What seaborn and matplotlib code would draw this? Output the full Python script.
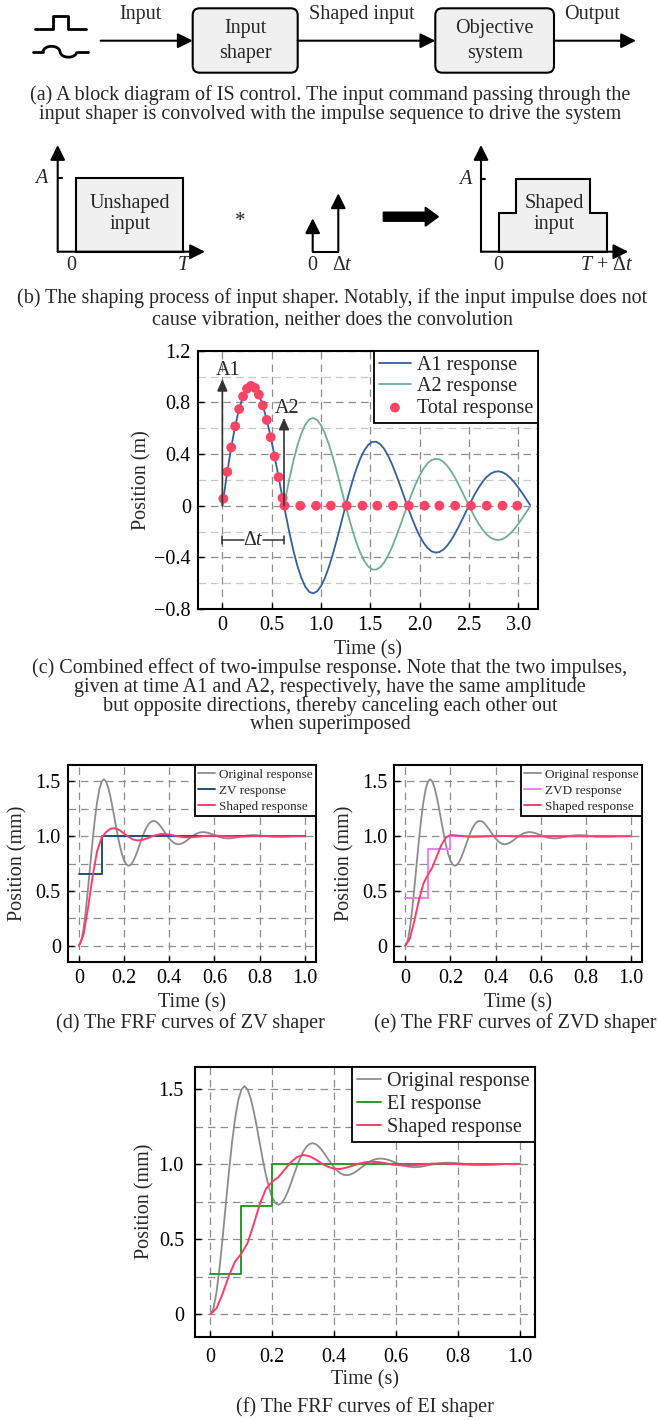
import matplotlib
matplotlib.use("Agg")
import matplotlib.pyplot as plt
import matplotlib.ticker as mticker
import seaborn as sns
from matplotlib.patches import FancyBboxPatch, Rectangle, Polygon, FancyArrow, PathPatch
from matplotlib.path import Path

sns.set_theme(style="white")
plt.rcParams["font.family"] = ["Liberation Serif", "DejaVu Serif"]
plt.rcParams["mathtext.fontset"] = "custom"
plt.rcParams["mathtext.rm"] = "Liberation Serif"
plt.rcParams["mathtext.it"] = "Liberation Serif:italic"

# ---- (d)-(f) step responses ----
t_fine = [0, 0.01, 0.02, 0.03, 0.04, 0.05, 0.06, 0.07, 0.08, 0.09,
          0.1, 0.11, 0.12, 0.13, 0.14, 0.15, 0.16, 0.17, 0.18, 0.19,
          0.2, 0.21, 0.22, 0.23, 0.24, 0.25, 0.26, 0.27, 0.28, 0.29,
          0.3, 0.31, 0.32, 0.33, 0.34, 0.35, 0.36, 0.37, 0.38, 0.39,
          0.4, 0.41, 0.42, 0.43, 0.44, 0.45, 0.46, 0.47, 0.48, 0.49,
          0.5, 0.51, 0.52, 0.53, 0.54, 0.55, 0.56, 0.57, 0.58, 0.59, 0.6,
          0.62, 0.64, 0.66, 0.68, 0.7, 0.72, 0.74, 0.76, 0.78, 0.8,
          0.82, 0.84, 0.86, 0.88, 0.9, 0.92, 0.94, 0.96, 0.98, 1.0]
orig = [0, 0.041, 0.153, 0.32, 0.523, 0.741, 0.955, 1.149, 1.309, 1.427,
        1.497, 1.52, 1.499, 1.44, 1.353, 1.248, 1.135, 1.023, 0.923, 0.839,
        0.778, 0.742, 0.73, 0.741, 0.771, 0.816, 0.871, 0.93, 0.988, 1.04,
        1.083, 1.115, 1.134, 1.14, 1.135, 1.119, 1.095, 1.067, 1.036, 1.006,
        0.979, 0.957, 0.94, 0.93, 0.927, 0.93, 0.938, 0.95, 0.965, 0.981,
        0.997, 1.011, 1.023, 1.031, 1.036, 1.038, 1.036, 1.032, 1.026, 1.018, 1.01,
        0.994, 0.984, 0.98, 0.983, 0.991, 0.999, 1.006, 1.01, 1.01, 1.007,
        1.003, 0.998, 0.996, 0.995, 0.995, 0.997, 1.0, 1.002, 1.003, 1.003]
t_sh = [0, 0.02, 0.04, 0.06, 0.08, 0.1, 0.12, 0.14, 0.16, 0.18,
        0.2, 0.22, 0.24, 0.26, 0.28, 0.3, 0.32, 0.34, 0.36, 0.38,
        0.4, 0.42, 0.44, 0.46, 0.48, 0.5, 0.52, 0.54, 0.56, 0.58,
        0.6, 0.62, 0.64, 0.66, 0.68, 0.7, 0.72, 0.74, 0.76, 0.78,
        0.8, 0.82, 0.84, 0.86, 0.88, 0.9, 0.92, 0.94, 0.96, 0.98, 1.0]
zv_shaped = [0, 0.101, 0.344, 0.629, 0.861, 0.985, 1.038, 1.069, 1.073, 1.055,
             1.024, 0.993, 0.97, 0.961, 0.966, 0.979, 0.996, 1.01, 1.019, 1.02,
             1.015, 1.007, 0.998, 0.992, 0.99, 0.991, 0.994, 0.999, 1.003, 1.005,
             1.005, 1.004, 1.002, 0.999, 0.998, 0.997, 0.997, 0.998, 1.0, 1.001,
             1.001, 1.001, 1.001, 1.0, 1.0, 0.999, 0.999, 0.999, 1.0, 1.0, 1.0]
zvd_shaped = [0, 0.066, 0.227, 0.414, 0.567, 0.648, 0.718, 0.821, 0.921, 0.989,
              1.011, 1.008, 1.004, 1.0, 0.996, 0.995, 0.995, 0.997, 0.999, 1.001,
              1.003, 1.003, 1.002, 1.001, 1.0, 0.999, 0.999, 0.999, 0.999, 1.0,
              1.0, 1.001, 1.001, 1.001, 1.0, 1.0, 1.0, 1.0, 1.0, 1.0,
              1.0, 1.0, 1.0, 1.0, 1.0, 1.0, 1.0, 1.0, 1.0, 1.0, 1.0]
ei_shaped = [0, 0.041, 0.141, 0.258, 0.353, 0.404, 0.474, 0.601, 0.736, 0.838,
             0.884, 0.914, 0.964, 1.013, 1.048, 1.062, 1.054, 1.032, 1.005, 0.983,
             0.97, 0.969, 0.977, 0.99, 1.004, 1.013, 1.017, 1.015, 1.009, 1.001,
             0.995, 0.992, 0.992, 0.994, 0.997, 1.001, 1.004, 1.005, 1.004, 1.002,
             1.0, 0.999, 0.998, 0.998, 0.998, 0.999, 1.0, 1.001, 1.001, 1.001, 1.001]

zv_t, zv_y = [0, 0.1, 1.0], [0.658, 1.0, 1.0]
zvd_t, zvd_y = [0, 0.1, 0.2, 1.0], [0.433, 0.883, 1.0, 1.0]
ei_t, ei_y = [0, 0.1, 0.2, 1.0], [0.27, 0.72, 1.0, 1.0]

# ---- (c) two-impulse responses ----
t_c = [0, 0.04, 0.08, 0.12, 0.16, 0.2, 0.24, 0.28, 0.32, 0.36, 0.4, 0.44, 0.48, 0.52, 0.56, 0.6,
       0.64, 0.68, 0.72, 0.76, 0.8, 0.84, 0.88, 0.92, 0.96, 1.0, 1.04, 1.08, 1.12, 1.16, 1.2, 1.24,
       1.28, 1.32, 1.36, 1.4, 1.44, 1.48, 1.52, 1.56, 1.6, 1.64, 1.68, 1.72, 1.76, 1.8, 1.84, 1.88,
       1.92, 1.96, 2.0, 2.04, 2.08, 2.12, 2.16, 2.2, 2.24, 2.28, 2.32, 2.36, 2.4, 2.44, 2.48, 2.52,
       2.56, 2.6, 2.64, 2.68, 2.72, 2.76, 2.8, 2.84, 2.88, 2.92, 2.96, 3.0, 3.04, 3.08, 3.12]
a1_resp = [0, 0.211, 0.406, 0.577, 0.718, 0.825, 0.895, 0.926, 0.92, 0.876, 0.8, 0.695, 0.566, 0.419, 0.262, 0.1,
           -0.059, -0.21, -0.347, -0.464, -0.558, -0.626, -0.667, -0.679, -0.664, -0.623, -0.559, -0.475,
           -0.375, -0.264, -0.147, -0.029, 0.086, 0.193, 0.288, 0.367, 0.429, 0.472, 0.494, 0.495, 0.477,
           0.44, 0.387, 0.321, 0.244, 0.161, 0.075, -0.011, -0.093, -0.168, -0.234, -0.287, -0.328, -0.353,
           -0.363, -0.359, -0.34, -0.309, -0.266, -0.214, -0.156, -0.094, -0.031, 0.031, 0.09, 0.142, 0.187,
           0.223, 0.248, 0.262, 0.266, 0.259, 0.241, 0.215, 0.181, 0.141, 0.098, 0.052, 0.005]
t_a2 = [0.625, 0.64, 0.68, 0.72, 0.76, 0.8, 0.84, 0.88, 0.92, 0.96, 1.0, 1.04, 1.08, 1.12, 1.16, 1.2, 1.24,
        1.28, 1.32, 1.36, 1.4, 1.44, 1.48, 1.52, 1.56, 1.6, 1.64, 1.68, 1.72, 1.76, 1.8, 1.84, 1.88,
        1.92, 1.96, 2.0, 2.04, 2.08, 2.12, 2.16, 2.2, 2.24, 2.28, 2.32, 2.36, 2.4, 2.44, 2.48, 2.52,
        2.56, 2.6, 2.64, 2.68, 2.72, 2.76, 2.8, 2.84, 2.88, 2.92, 2.96, 3.0, 3.04, 3.08, 3.12]
a2_resp = [0, 0.059, 0.21, 0.347, 0.464, 0.558, 0.626, 0.667, 0.679, 0.664, 0.623, 0.559, 0.475,
           0.375, 0.264, 0.147, 0.029, -0.086, -0.193, -0.288, -0.367, -0.429, -0.472, -0.494, -0.495, -0.477,
           -0.44, -0.387, -0.321, -0.244, -0.161, -0.075, 0.011, 0.093, 0.168, 0.234, 0.287, 0.328, 0.353,
           0.363, 0.359, 0.34, 0.309, 0.266, 0.214, 0.156, 0.094, 0.031, -0.031, -0.09, -0.142, -0.187,
           -0.223, -0.248, -0.262, -0.266, -0.259, -0.241, -0.215, -0.181, -0.141, -0.098, -0.052, -0.005]
t_dots = [0.01, 0.05, 0.09, 0.13, 0.17, 0.21, 0.25, 0.29, 0.33, 0.37, 0.41, 0.45, 0.49, 0.53, 0.57, 0.61,
          0.63, 0.79, 0.95, 1.10, 1.26, 1.42, 1.57, 1.73, 1.89, 2.05, 2.20, 2.36, 2.52, 2.68, 2.84, 2.99]
total = [0.054, 0.262, 0.451, 0.615, 0.748, 0.846, 0.906, 0.928, 0.912, 0.86, 0.776, 0.664, 0.53, 0.381, 0.221, 0.06,
         0, 0, 0, 0, 0, 0, 0, 0, 0, 0, 0, 0, 0, 0, 0, 0]

W, H = 659, 1420
FS = 14.5
BLUE = "#33609a"
GREEN = "#72ad93"
RED = "#ff4466"
GRAY = "#8c8c8c"
ZV_C = "#1f4f7a"
ZVD_C = "#f27ef2"
EI_C = "#2a9a2a"
SHAPED = "#ff3d6a"
BOXFILL = "#f0f0f0"


def rect(l, t, r, b):
    return [l / W, 1 - b / H, (r - l) / W, (b - t) / H]


def fmt(v, _):
    if abs(v) < 1e-9:
        return "0"
    return f"{v:.1f}".replace("-", "\u2212")


def style_axes(ax, box, xlim, ylim, xmaj, ymaj, ymin, xlab_y, ylab_x, ylabel, pad=5, grid_minor="#8c8c8c"):
    l, t, r, b = box
    ax.set_xlim(*xlim)
    ax.set_ylim(*ylim)
    for s in ax.spines.values():
        s.set_visible(True)
        s.set_color("black")
        s.set_linewidth(1.5)
    ax.xaxis.set_major_locator(mticker.MultipleLocator(xmaj))
    ax.yaxis.set_major_locator(mticker.MultipleLocator(ymaj))
    ax.yaxis.set_minor_locator(mticker.MultipleLocator(ymin))
    ax.xaxis.set_major_formatter(mticker.FuncFormatter(fmt))
    ax.yaxis.set_major_formatter(mticker.FuncFormatter(fmt))
    ax.tick_params(which="major", direction="in", length=4, width=1.0, colors="black",
                   labelsize=FS, pad=pad, bottom=True, left=True, top=False, right=False)
    ax.tick_params(which="minor", length=0)
    dash = (0, (6, 4))
    ax.grid(True, which="major", color="#8c8c8c", linestyle=dash, linewidth=0.9)
    ax.grid(True, which="minor", axis="y", color=grid_minor, linestyle=dash, linewidth=0.9)
    ax.set_axisbelow(True)
    ax.set_xlabel("Time (s)", fontsize=FS)
    ax.xaxis.label.set_va("center")
    ax.xaxis.set_label_coords(0.5, (b - xlab_y) / (b - t))
    ax.set_ylabel(ylabel, fontsize=FS)
    ax.yaxis.label.set_va("center")
    ax.yaxis.label.set_ha("center")
    ax.yaxis.set_label_coords((ylab_x - l) / (r - l), 0.5)


def legend(ax, fs, hl, spacing):
    leg = ax.legend(loc="upper right", borderaxespad=0, frameon=True, fancybox=False,
                    edgecolor="black", framealpha=1, fontsize=fs, handlelength=hl,
                    handletextpad=0.3, labelspacing=spacing, borderpad=0.25)
    leg.get_frame().set_linewidth(1.3)
    return leg


fig = plt.figure(figsize=(W / 100, H / 100), dpi=100)

# ---- overlay for diagrams and captions (pixel coordinates) ----
ov = fig.add_axes([0, 0, 1, 1], zorder=-1)
ov.set_xlim(0, W)
ov.set_ylim(H, 0)
ov.axis("off")


def arrow(x0, y0, x1, y1, ms=15, lw=1.5):
    ov.annotate("", xy=(x1, y1), xytext=(x0, y0),
                arrowprops=dict(arrowstyle="-|>,head_length=0.6,head_width=0.3", color="black",
                                lw=lw, mutation_scale=ms, shrinkA=0, shrinkB=0))


def txt(x, y, s, fs=FS, **kw):
    ov.text(x, y, s, ha="center", va="center", fontsize=fs, **kw)


# (a) block diagram
ov.plot([35, 53.3, 53.3, 68.3, 68.3, 86], [29.3, 29.3, 15.7, 15.7, 29.3, 29.3], color="black", lw=2)
ov.plot([33, 43], [51.7, 51.7], color="black", lw=2)
ov.plot([77, 88], [51.7, 51.7], color="black", lw=2)
wave = Path([(43, 51.7), (44, 44.5), (59, 44.5), (60, 51.7), (61, 59), (76, 59), (77, 51.7)],
            [Path.MOVETO, Path.CURVE4, Path.CURVE4, Path.CURVE4, Path.CURVE4, Path.CURVE4, Path.CURVE4])
ov.add_patch(PathPatch(wave, fc="none", ec="black", lw=2))
arrow(100.7, 40.7, 192.7, 40.7)
arrow(297.7, 40.7, 435.3, 40.7)
arrow(554, 40.7, 636, 40.7)
for x0, x1 in [(192.7, 297.7), (435.3, 554)]:
    ov.add_patch(FancyBboxPatch((x0, 8.3), x1 - x0, 64.4, boxstyle="round,pad=0,rounding_size=7",
                                fc=BOXFILL, ec="black", lw=1.5))
txt(140.7, 14, "Input")
txt(362, 14, "Shaped input")
txt(592.3, 14, "Output")
txt(245.2, 28.3, "Input")
txt(245.2, 53.3, "shaper")
txt(494.7, 28.3, "Objective")
txt(494.7, 53.3, "system")
txt(330, 95, "(a) A block diagram of IS control. The input command passing through the")
txt(330, 115, "input shaper is convolved with the impulse sequence to drive the system")

# (b) shaping process
for x0, x1 in [(57.7, 205), (481, 628.3)]:
    arrow(x0, 251.7, x0, 145)
    arrow(x0, 251.7, x1, 251.7)
ov.plot([57.7, 62], [178.3, 178.3], color="black", lw=1.5)
ov.plot([481, 485.3], [179, 179], color="black", lw=1.5)
txt(41.7, 178.3, "A", style="italic")
txt(465, 179, "A", style="italic")
ov.add_patch(Rectangle((76, 178.3), 107.3, 73.4, fc=BOXFILL, ec="black", lw=1.5))
txt(130, 203.3, "Unshaped")
txt(130, 225, "input")
txt(71.7, 266, "0")
txt(183.3, 266, "T", style="italic")
txt(240, 221, "*", fs=15)
ov.plot([312.7, 338.3], [251.7, 251.7], color="black", lw=1.5)
arrow(312.7, 251.7, 312.7, 218.3)
arrow(338.3, 251.7, 338.3, 193.3)
txt(312.7, 266, "0")
txt(342, 266, r"$\Delta t$")
ov.add_patch(FancyArrow(383.3, 216.7, 55, 0, width=9, head_width=19, head_length=13,
                        length_includes_head=True, fc="black", ec="black"))
ov.add_patch(Polygon([(499, 251.7), (499, 213.3), (515.7, 213.3), (515.7, 179), (590, 179),
                      (590, 213.3), (606.7, 213.3), (606.7, 251.7)],
                     closed=True, fc=BOXFILL, ec="black", lw=1.5))
txt(554, 203.3, "Shaped")
txt(554, 225, "input")
txt(498.3, 266, "0")
txt(606.7, 266, r"$T$ + $\Delta t$")
txt(332, 298.3, "(b) The shaping process of input shaper. Notably, if the input impulse does not")
txt(332, 320.5, "cause vibration, neither does the convolution")

# (c) two-impulse response
box_c = (197.7, 350.7, 538, 609)
ax_c = fig.add_axes(rect(*box_c))
sns.lineplot(x=t_c, y=a1_resp, ax=ax_c, color=BLUE, lw=1.3, label="A1 response")
sns.lineplot(x=t_a2, y=a2_resp, ax=ax_c, color=GREEN, lw=1.3, label="A2 response")
sns.scatterplot(x=t_dots, y=total, ax=ax_c, color=RED, s=50, edgecolor="none", label="Total response", zorder=5)
style_axes(ax_c, box_c, (-0.25, 3.2), (-0.8, 1.2), 0.5, 0.4, 0.2, 650, 141.7, "Position (m)",
           grid_minor="#c8c8c8")
for x0, y1, lx, ly, lab in [(0, 0.98, 0.06, 1.05, "A1"), (0.625, 0.68, 0.652, 0.756, "A2")]:
    ax_c.annotate("", xy=(x0, y1), xytext=(x0, 0),
                  arrowprops=dict(arrowstyle="-|>,head_length=0.5,head_width=0.22", color="#333333",
                                  lw=1.2, mutation_scale=14, shrinkA=0, shrinkB=0), zorder=6)
    ax_c.text(lx, ly, lab, ha="center", va="center", fontsize=FS)
yb = -0.268
ax_c.plot([0, 0.215], [yb, yb], color="#333333", lw=1.1)
ax_c.plot([0.415, 0.62], [yb, yb], color="#333333", lw=1.1)
ax_c.plot([0, 0], [yb - 0.03, yb + 0.03], color="#333333", lw=1.1)
ax_c.plot([0.62, 0.62], [yb - 0.03, yb + 0.03], color="#333333", lw=1.1)
ax_c.text(0.315, yb, r"$\Delta t$", ha="center", va="center", fontsize=FS)
legend(ax_c, FS, 1.55, 0.12)
txt(330, 668.3, "(c) Combined effect of two-impulse response. Note that the two impulses,")
txt(330, 687.3, "given at time A1 and A2, respectively, have the same amplitude")
txt(330, 706, "but opposite directions, thereby canceling each other out")
txt(330, 725, "when superimposed")

# (d), (e), (f) shaper responses
panels = [
    ((67.7, 765, 316, 962.3), zv_t, zv_y, zv_shaped, ZV_C, "ZV response", 9.5, 1003.3, 18.3, 5, 0.3),
    ((394, 765, 642.3, 962.3), zvd_t, zvd_y, zvd_shaped, ZVD_C, "ZVD response", 9.5, 1003.3, 345, 5, 0.3),
    ((195, 1066.7, 535, 1336.8), ei_t, ei_y, ei_shaped, EI_C, "EI response", FS, 1380, 145, 8, 0.2),
]
for box, st, sy, shaped, col, lab, lfs, xly, ylx, pad, spc in panels:
    ax = fig.add_axes(rect(*box))
    sns.lineplot(x=t_fine, y=orig, ax=ax, color=GRAY, lw=1.3, label="Original response")
    sns.lineplot(x=st, y=sy, ax=ax, color=col, lw=1.4, drawstyle="steps-post", label=lab)
    sns.lineplot(x=t_sh, y=shaped, ax=ax, color=SHAPED, lw=1.4, label="Shaped response")
    style_axes(ax, box, (-0.05, 1.05), (-0.15, 1.65), 0.2, 0.5, 0.25, xly, ylx, "Position (mm)", pad=pad)
    legend(ax, lfs, 1.3 if lfs < FS else 1.2, spc)

txt(190, 1022.7, "(d) The FRF curves of ZV shaper")
txt(515, 1022.7, "(e) The FRF curves of ZVD shaper")
txt(365, 1407.3, "(f) The FRF curves of EI shaper")

fig.savefig("out.png", dpi=100)
plt.close(fig)
